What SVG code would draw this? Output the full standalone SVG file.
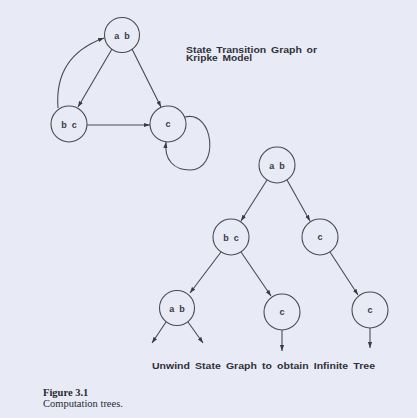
<svg xmlns="http://www.w3.org/2000/svg" width="417" height="418" viewBox="0 0 417 418">
  <style>
    .node circle { fill: none; stroke: #4a4a52; stroke-width: 1.1; }
    .node text { font-family: "Liberation Sans", Arial, sans-serif; font-size: 9px; font-weight: bold; fill: #3a3a42; text-anchor: middle; word-spacing: 2.5px; }
    .edges path, .edges line { fill: none; stroke: #4a4a52; stroke-width: 1.1; marker-end: url(#arrow); }
    .label { font-family: "Liberation Sans", Arial, sans-serif; font-weight: bold; fill: #303038; }
    .caption { font-family: "Liberation Serif", "Times New Roman", serif; font-size: 10.5px; fill: #2a2a32; }
  </style>
  <defs>
    <marker id="arrow" viewBox="0 0 10 10" refX="10" refY="5" markerWidth="6" markerHeight="6" markerUnits="userSpaceOnUse" orient="auto">
      <path d="M0,1.5 L10,5 L0,8.5 Z" fill="#3a3a42"/>
    </marker>
  </defs>

  <rect width="417" height="418" fill="#e8ebf5"/>

  <!-- State transition graph -->
  <g id="s_ab" class="node"><circle cx="122" cy="35" r="17.5"/><text x="122" y="38.5">a b</text></g>
  <g id="s_bc" class="node"><circle cx="69" cy="124" r="18"/><text x="69" y="127.5">b c</text></g>
  <g id="s_c" class="node"><circle cx="168" cy="124" r="18"/><text x="168" y="127">c</text></g>

  <!-- Computation tree -->
  <g id="t_root" class="node"><circle cx="277" cy="165" r="18"/><text x="277" y="168.5">a b</text></g>
  <g id="t_bc" class="node"><circle cx="231" cy="237" r="18"/><text x="231" y="240.5">b c</text></g>
  <g id="t_c" class="node"><circle cx="320" cy="237" r="18"/><text x="320" y="240">c</text></g>
  <g id="t_ab2" class="node"><circle cx="177" cy="308" r="17.5"/><text x="177" y="311.5">a b</text></g>
  <g id="t_c2" class="node"><circle cx="282" cy="312" r="18"/><text x="282" y="315">c</text></g>
  <g id="t_c3" class="node"><circle cx="370" cy="310" r="18"/><text x="370" y="313">c</text></g>

  <g id="connectors" class="edges">
    <!-- graph edges -->
    <line x1="112" y1="49" x2="78" y2="107"/>
    <line x1="132" y1="49" x2="161" y2="107"/>
    <line x1="87" y1="125" x2="150" y2="125"/>
    <path d="M58,108 Q54,56 104,38"/>
    <path d="M185,117 C214,110 220,170 190,170 C174,170 164,160 166,142"/>
    <!-- tree edges -->
    <line x1="267" y1="180" x2="241" y2="221"/>
    <line x1="287" y1="180" x2="310" y2="221"/>
    <line x1="221" y1="252" x2="190" y2="293"/>
    <line x1="241" y1="252" x2="271" y2="296"/>
    <line x1="330" y1="252" x2="358" y2="295"/>
    <line x1="166" y1="322" x2="152" y2="343"/>
    <line x1="188" y1="322" x2="203" y2="343"/>
    <line x1="282" y1="330" x2="282" y2="351"/>
    <line x1="370" y1="328" x2="370" y2="348"/>
  </g>

  <text class="label" x="186" y="52.6" font-size="8.2" word-spacing="1.5" textLength="131" lengthAdjust="spacingAndGlyphs">State Transition Graph or</text>
  <text class="label" x="186" y="60.6" font-size="8.2" word-spacing="1.5" textLength="66" lengthAdjust="spacingAndGlyphs">Kripke Model</text>
  <text class="label" x="152" y="369" font-size="9.4" word-spacing="2" textLength="223" lengthAdjust="spacingAndGlyphs">Unwind State Graph to obtain Infinite Tree</text>

  <text class="caption" x="43" y="396" font-weight="bold">Figure 3.1</text>
  <text class="caption" x="43" y="407">Computation trees.</text>
</svg>
